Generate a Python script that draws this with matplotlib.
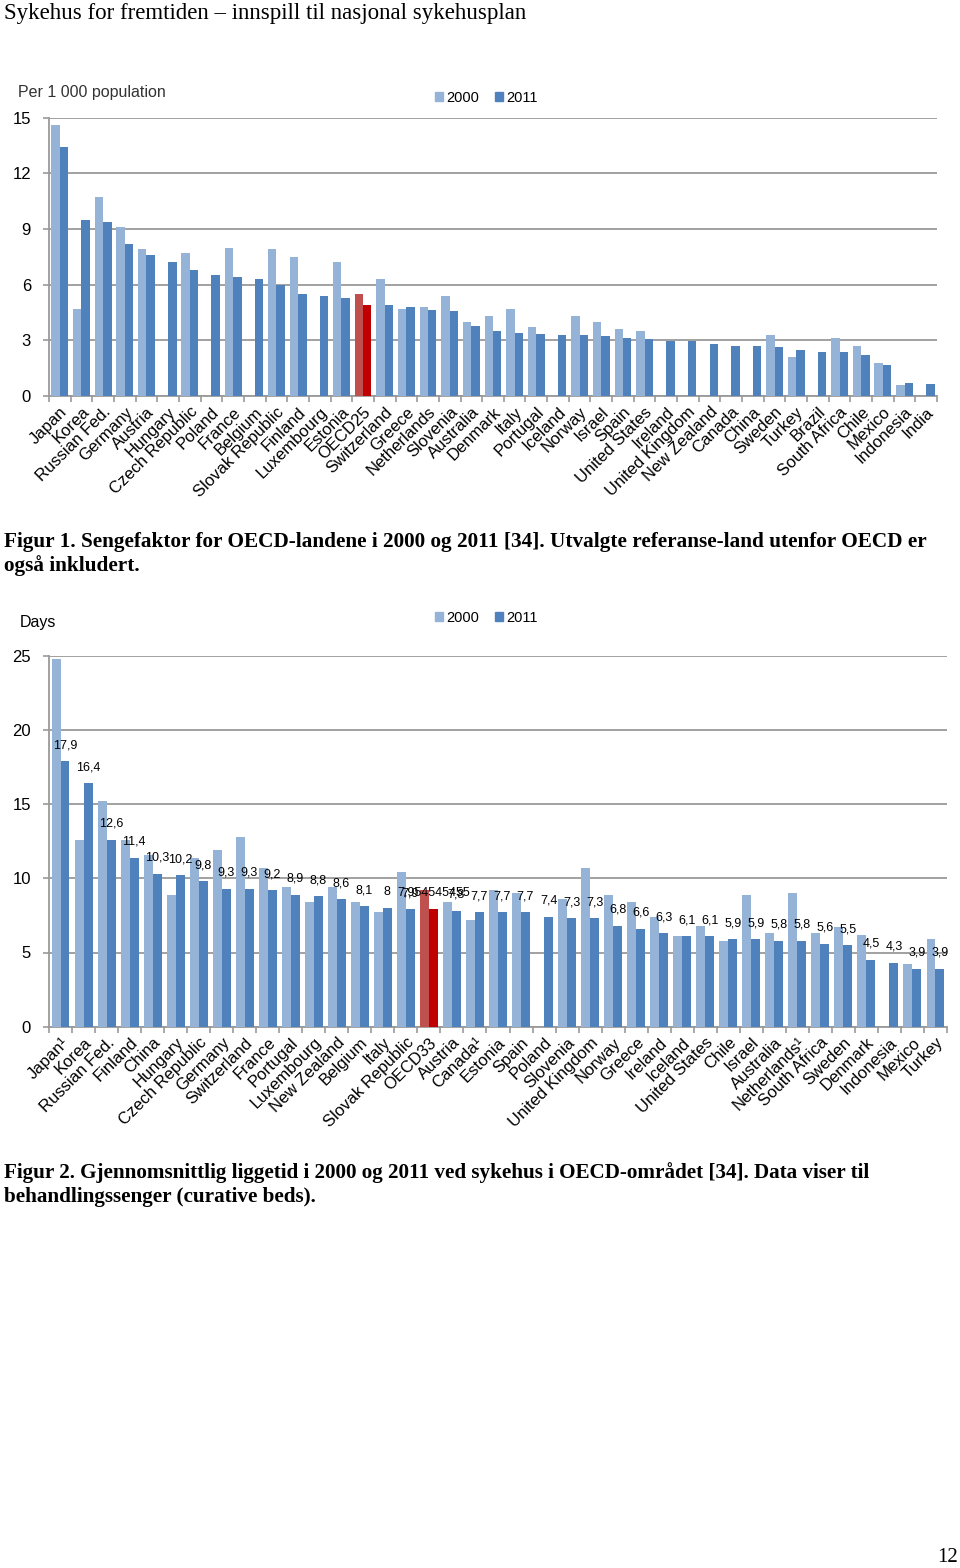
import numpy as np
import matplotlib
matplotlib.use('Agg')
import matplotlib.pyplot as plt
from matplotlib.patches import Patch

nan = np.nan

# ---------------- Figur 1 : senger per 1 000 innbyggere ----------------
beds_countries = ['Japan', 'Korea', 'Russian Fed.', 'Germany', 'Austria', 'Hungary',
                  'Czech Republic', 'Poland', 'France', 'Belgium', 'Slovak Republic',
                  'Finland', 'Luxembourg', 'Estonia', 'OECD25', 'Switzerland', 'Greece',
                  'Netherlands', 'Slovenia', 'Australia', 'Denmark', 'Italy', 'Portugal',
                  'Iceland', 'Norway', 'Israel', 'Spain', 'United States', 'Ireland',
                  'United Kingdom', 'New Zealand', 'Canada', 'China', 'Sweden', 'Turkey',
                  'Brazil', 'South Africa', 'Chile', 'Mexico', 'Indonesia', 'India']
beds_2000 = [14.6, 4.7, 10.7, 9.1, 7.9, nan, 7.7, nan, 8.0, nan, 7.9,
             7.5, nan, 7.2, 5.5, 6.3, 4.7, 4.8, 5.4, 4.0, 4.3, 4.7, 3.7,
             nan, 4.3, 4.0, 3.6, 3.5, nan, nan, nan, nan, nan, 3.3, 2.1,
             nan, 3.1, 2.7, 1.8, 0.6, nan]
beds_2011 = [13.4, 9.5, 9.4, 8.2, 7.6, 7.2, 6.8, 6.5, 6.4, 6.3, 6.0,
             5.5, 5.4, 5.3, 4.9, 4.9, 4.8, 4.65, 4.6, 3.75, 3.5, 3.4, 3.35,
             3.3, 3.3, 3.25, 3.15, 3.05, 2.95, 2.95, 2.8, 2.7, 2.7, 2.65, 2.5,
             2.35, 2.35, 2.2, 1.65, 0.7, 0.65]

# ---------------- Figur 2 : liggetid (dager) ----------------
stay_countries = ['Japan¹', 'Korea', 'Russian Fed.', 'Finland', 'China', 'Hungary',
                  'Czech Republic', 'Germany', 'Switzerland', 'France', 'Portugal',
                  'Luxembourg', 'New Zealand', 'Belgium', 'Italy', 'Slovak Republic',
                  'OECD33', 'Austria', 'Canada¹', 'Estonia', 'Spain', 'Poland',
                  'Slovenia', 'United Kingdom', 'Norway', 'Greece', 'Ireland', 'Iceland',
                  'United States', 'Chile', 'Israel', 'Australia', 'Netherlands¹',
                  'South Africa', 'Sweden', 'Denmark', 'Indonesia', 'Mexico', 'Turkey']
stay_2000 = [24.8, 12.6, 15.2, 12.6, 11.6, 8.9, 11.4, 11.9, 12.8, 10.7, 9.4,
             8.4, 9.4, 8.4, 7.7, 10.4, 9.2, 8.4, 7.2, 9.2, 9.0, nan,
             8.6, 10.7, 8.9, 8.4, 7.4, 6.1, 6.8, 5.8, 8.9, 6.3, 9.0,
             6.3, 6.7, 6.2, nan, 4.2, 5.9]
stay_2011 = [17.9, 16.4, 12.6, 11.4, 10.3, 10.2, 9.8, 9.3, 9.3, 9.2, 8.9,
             8.8, 8.6, 8.1, 8, 7.9, 7.954545455, 7.8, 7.7, 7.7, 7.7, 7.4,
             7.3, 7.3, 6.8, 6.6, 6.3, 6.1, 6.1, 5.9, 5.9, 5.8, 5.8,
             5.6, 5.5, 4.5, 4.3, 3.9, 3.9]

LIGHT = '#95B3D7'
DARK = '#4F81BD'
RED_LIGHT = '#C0504D'
RED_DARK = '#C00000'
GRID = '#9a9a9a'
SANS = 'Liberation Sans'
SERIF = 'Liberation Serif'

W, H = 960, 1568


def fx(px):
    return px / W


def fy(py):
    return 1 - py / H


def draw_chart(ax, countries, v2000, v2011, ymax, ystep, highlight, tick_fs):
    x = np.arange(len(countries))
    w = 0.39
    c2000 = [RED_LIGHT if c == highlight else LIGHT for c in countries]
    c2011 = [RED_DARK if c == highlight else DARK for c in countries]
    ax.bar(x - w / 2, np.array(v2000, dtype=float), w, color=c2000, zorder=3)
    bars = ax.bar(x + w / 2, np.array(v2011, dtype=float), w, color=c2011, zorder=3)
    ax.set_xlim(-0.5, len(countries) - 0.5)
    ax.set_ylim(0, ymax)
    ax.set_yticks(range(0, ymax + 1, ystep))
    ax.grid(axis='y', color=GRID, lw=1.3, zorder=0)
    ax.set_axisbelow(True)
    for s in ['top', 'right']:
        ax.spines[s].set_visible(False)
    for s in ['left', 'bottom']:
        ax.spines[s].set_color(GRID)
        ax.spines[s].set_linewidth(1.3)
    ax.set_xticks(x)
    ax.set_xticklabels(countries, rotation=45, ha='right', rotation_mode='anchor',
                       fontsize=tick_fs, family=SANS)
    ax.set_xticks(np.arange(len(countries) + 1) - 0.5, minor=True)
    ax.tick_params(axis='x', which='major', length=0, pad=6)
    ax.tick_params(axis='x', which='minor', length=4, color=GRID, width=1.2)
    ax.tick_params(axis='y', length=4, color=GRID, width=1.2, pad=9, labelsize=12)
    for t in ax.get_yticklabels():
        t.set_family(SANS)
    return bars


fig = plt.figure(figsize=(9.6, 15.68), dpi=100)

# header
fig.text(fx(4), fy(13), 'Sykehus for fremtiden – innspill til nasjonal sykehusplan',
         family=SERIF, fontsize=16.5, va='center', ha='left')

# chart 1
ax1 = fig.add_axes([fx(49), fy(396), fx(937) - fx(49), fy(117.7) - fy(396)])
draw_chart(ax1, beds_countries, beds_2000, beds_2011, 15, 3, 'OECD25', 12)
fig.text(fx(18), fy(93), 'Per 1 000 population', family=SANS, fontsize=11.5,
         color='#333333', va='center')
fig.legend(handles=[Patch(color=LIGHT), Patch(color=DARK)], labels=['2000', '2011'],
           loc='center left', bbox_to_anchor=(fx(435), fy(98)), ncol=2, frameon=False,
           handlelength=0.55, handleheight=0.55, handletextpad=0.2, columnspacing=1.1,
           prop={'family': SANS, 'size': 10.5}, borderpad=0, borderaxespad=0)

fig.text(fx(4), fy(542), 'Figur 1. Sengefaktor for OECD-landene i 2000 og 2011 [34]. '
         'Utvalgte referanse-land utenfor OECD er', family=SERIF, fontweight='bold',
         fontsize=15.3, va='center')
fig.text(fx(4), fy(566), 'også inkludert.', family=SERIF, fontweight='bold',
         fontsize=15.3, va='center')

# chart 2
ax2 = fig.add_axes([fx(49), fy(1026.7), fx(947) - fx(49), fy(655.7) - fy(1026.7)])
bars = draw_chart(ax2, stay_countries, stay_2000, stay_2011, 25, 5, 'OECD33', 12)
for rect, v in zip(bars, stay_2011):
    ax2.annotate(('%.10g' % v).replace('.', ','),
                 (rect.get_x() + rect.get_width() / 2, v),
                 xytext=(0, 11.5), textcoords='offset points', ha='center', va='center',
                 fontsize=9, family=SANS, zorder=5)
fig.text(fx(20), fy(623), 'Days', family=SANS, fontsize=11.5, va='center')
fig.legend(handles=[Patch(color=LIGHT), Patch(color=DARK)], labels=['2000', '2011'],
           loc='center left', bbox_to_anchor=(fx(435), fy(618)), ncol=2, frameon=False,
           handlelength=0.55, handleheight=0.55, handletextpad=0.2, columnspacing=1.1,
           prop={'family': SANS, 'size': 10.5}, borderpad=0, borderaxespad=0)

fig.text(fx(4), fy(1173), 'Figur 2. Gjennomsnittlig liggetid i 2000 og 2011 ved sykehus '
         'i OECD-området [34]. Data viser til', family=SERIF, fontweight='bold',
         fontsize=15.2, va='center')
fig.text(fx(4), fy(1197), 'behandlingssenger (curative beds).', family=SERIF,
         fontweight='bold', fontsize=15.2, va='center')

fig.text(fx(958), fy(1558), '12', family=SERIF, fontsize=15, ha='right', va='center')

fig.savefig('out.png', dpi=100)
